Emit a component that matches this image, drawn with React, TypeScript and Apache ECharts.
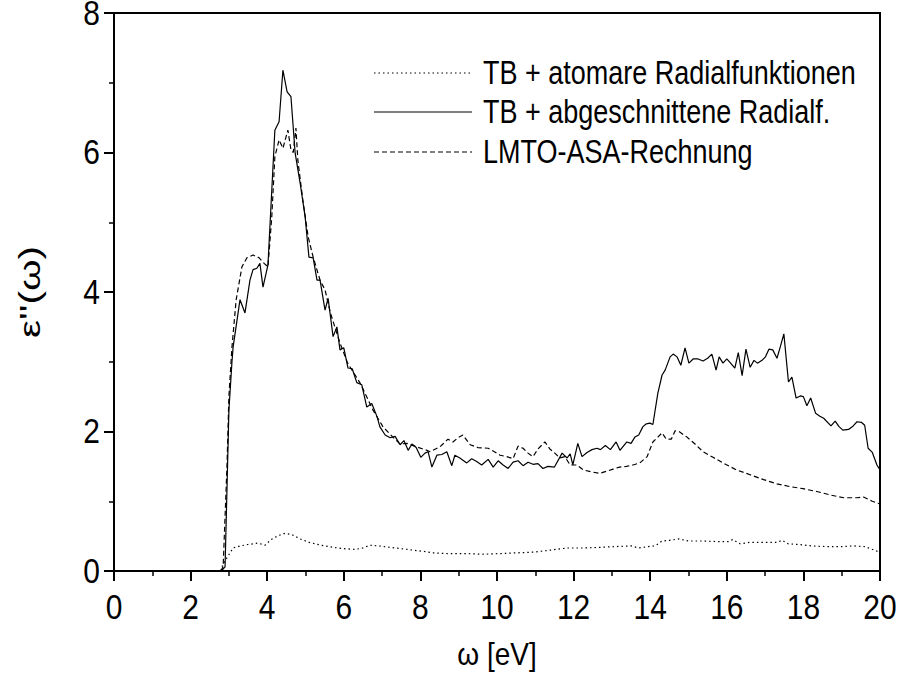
import React, { useEffect, useRef } from "react";
import * as echarts from "echarts";

// ε''(ω) spectra: [photon energy in eV, ε'']
const atomicRadial: [number, number][] = [
  [2.78, 0], [2.82, 0.06], [2.95, 0.19], [3.11, 0.33], [3.3, 0.36], [3.5, 0.38], [3.76, 0.4],
  [3.94, 0.37], [4.1, 0.45], [4.3, 0.51], [4.47, 0.54], [4.65, 0.52], [4.86, 0.46], [5.1, 0.41],
  [5.4, 0.37], [5.72, 0.34], [6.0, 0.32], [6.3, 0.31], [6.5, 0.33], [6.68, 0.37], [6.9, 0.36],
  [7.2, 0.34], [7.5, 0.32], [7.8, 0.3], [8.1, 0.28], [8.33, 0.26], [8.7, 0.25], [9.2, 0.25],
  [9.6, 0.24], [10.1, 0.25], [10.5, 0.26], [10.94, 0.27], [11.4, 0.3], [11.83, 0.33], [12.3, 0.33],
  [12.7, 0.34], [13.1, 0.35], [13.5, 0.36], [13.7, 0.33], [13.95, 0.35], [14.13, 0.36], [14.31, 0.43],
  [14.5, 0.44], [14.75, 0.46], [15.0, 0.43], [15.4, 0.43], [15.8, 0.42], [16.05, 0.42], [16.15, 0.45],
  [16.35, 0.39], [16.6, 0.41], [17.0, 0.41], [17.3, 0.41], [17.45, 0.44], [17.6, 0.39], [17.9, 0.38],
  [18.2, 0.36], [18.6, 0.35], [19.0, 0.35], [19.3, 0.36], [19.6, 0.35], [19.9, 0.29], [20.0, 0.26],
];

const truncatedRadial: [number, number][] = [
  [2.8, 0], [2.9, 0.06], [3.0, 2.3], [3.08, 3.0], [3.11, 3.21], [3.29, 3.89], [3.42, 3.7], [3.55, 4.17],
  [3.63, 4.32], [3.73, 4.34], [3.81, 4.41], [3.89, 4.07], [4.02, 4.39], [4.2, 6.32], [4.31, 6.44],
  [4.41, 7.18], [4.52, 6.87], [4.62, 6.8], [4.73, 5.99], [4.86, 5.56], [4.99, 5.08], [5.09, 4.5],
  [5.2, 4.49], [5.3, 4.17], [5.38, 4.17], [5.51, 3.74], [5.59, 3.91], [5.72, 3.36], [5.82, 3.5],
  [5.9, 3.17], [6.0, 3.2], [6.11, 2.91], [6.22, 2.9], [6.34, 2.7], [6.47, 2.67], [6.6, 2.35],
  [6.73, 2.4], [6.87, 2.21], [6.94, 2.07], [7.08, 1.95], [7.21, 1.91], [7.34, 1.93], [7.47, 1.81],
  [7.57, 1.87], [7.68, 1.73], [7.78, 1.82], [7.89, 1.77], [8.01, 1.63], [8.12, 1.69], [8.2, 1.71],
  [8.3, 1.49], [8.43, 1.66], [8.56, 1.67], [8.69, 1.71], [8.82, 1.51], [8.9, 1.66], [9.03, 1.62],
  [9.21, 1.55], [9.34, 1.61], [9.47, 1.57], [9.6, 1.52], [9.77, 1.6], [9.9, 1.49], [10.03, 1.58],
  [10.16, 1.52], [10.29, 1.47], [10.42, 1.56], [10.55, 1.58], [10.68, 1.51], [10.81, 1.56],
  [10.94, 1.53], [11.07, 1.54], [11.2, 1.47], [11.33, 1.5], [11.5, 1.49], [11.7, 1.69], [11.83, 1.62],
  [11.91, 1.68], [11.98, 1.52], [12.11, 1.83], [12.22, 1.64], [12.35, 1.7], [12.48, 1.74],
  [12.61, 1.76], [12.7, 1.74], [12.83, 1.8], [12.96, 1.74], [13.11, 1.85], [13.21, 1.73],
  [13.39, 1.85], [13.5, 1.83], [13.6, 1.92], [13.7, 1.95], [13.81, 2.07], [13.9, 2.11], [13.99, 2.12],
  [14.07, 2.1], [14.2, 2.55], [14.31, 2.81], [14.39, 2.88], [14.52, 3.07], [14.6, 3.11], [14.7, 3.07],
  [14.8, 2.95], [14.91, 3.2], [15.01, 2.98], [15.12, 3.04], [15.25, 3.04], [15.38, 3.01], [15.5, 3.05],
  [15.61, 3.11], [15.72, 2.88], [15.8, 3.07], [15.9, 2.98], [16.0, 3.04], [16.1, 2.98], [16.21, 2.91],
  [16.3, 3.13], [16.4, 2.8], [16.5, 3.18], [16.61, 2.92], [16.71, 3.02], [16.8, 2.98], [16.92, 3.02],
  [17.01, 3.07], [17.1, 3.18], [17.2, 3.17], [17.31, 3.05], [17.4, 3.22], [17.49, 3.4], [17.61, 2.71],
  [17.7, 2.78], [17.81, 2.48], [17.92, 2.51], [18.0, 2.5], [18.09, 2.37], [18.19, 2.48], [18.32, 2.26],
  [18.43, 2.22], [18.53, 2.19], [18.72, 2.08], [18.83, 2.15], [18.93, 2.07], [19.03, 2.02],
  [19.18, 2.03], [19.3, 2.08], [19.4, 2.14], [19.52, 2.13], [19.6, 2.09], [19.69, 1.76], [19.8, 1.7],
  [19.92, 1.52], [20.0, 1.45],
];

const lmtoAsa: [number, number][] = [
  [2.78, 0], [2.85, 0.06], [2.95, 1.5], [3.0, 2.5], [3.08, 3.21], [3.19, 3.89], [3.34, 4.36],
  [3.47, 4.49], [3.63, 4.53], [3.79, 4.49], [3.92, 4.41], [4.02, 4.36], [4.12, 5.08], [4.2, 5.94],
  [4.31, 6.18], [4.41, 6.06], [4.47, 6.18], [4.54, 6.32], [4.62, 6.04], [4.68, 6.0], [4.75, 6.35],
  [4.8, 5.89], [4.93, 5.32], [5.07, 4.79], [5.2, 4.5], [5.38, 4.17], [5.51, 4.03], [5.65, 3.7],
  [5.9, 3.27], [6.1, 2.98], [6.42, 2.7], [6.76, 2.31], [7.02, 2.07], [7.28, 1.92], [7.47, 1.82],
  [7.65, 1.83], [7.9, 1.78], [8.17, 1.73], [8.25, 1.71], [8.51, 1.78], [8.72, 1.89], [8.85, 1.85],
  [8.98, 1.91], [9.11, 1.95], [9.3, 1.81], [9.5, 1.77], [9.77, 1.76], [9.9, 1.72], [10.08, 1.66],
  [10.25, 1.64], [10.42, 1.61], [10.55, 1.79], [10.68, 1.76], [10.81, 1.69], [10.94, 1.64],
  [11.07, 1.75], [11.25, 1.85], [11.38, 1.75], [11.51, 1.69], [11.64, 1.62], [11.77, 1.64],
  [11.91, 1.52], [12.08, 1.52], [12.25, 1.45], [12.47, 1.42], [12.69, 1.4], [12.86, 1.43],
  [13.03, 1.46], [13.2, 1.49], [13.38, 1.5], [13.55, 1.52], [13.73, 1.55], [13.92, 1.64],
  [14.07, 1.85], [14.2, 1.92], [14.31, 1.98], [14.42, 1.89], [14.55, 1.89], [14.65, 2.01],
  [14.75, 2.0], [14.96, 1.92], [15.17, 1.82], [15.38, 1.71], [15.64, 1.63], [15.9, 1.55],
  [16.25, 1.45], [16.61, 1.38], [16.96, 1.31], [17.31, 1.25], [17.65, 1.21], [17.99, 1.18],
  [18.35, 1.14], [18.7, 1.09], [19.05, 1.05], [19.4, 1.05], [19.57, 1.06], [19.8, 1.0], [20.0, 0.96],
];

const seriesNames = [
  "TB + atomare Radialfunktionen",
  "TB + abgeschnittene Radialf.",
  "LMTO-ASA-Rechnung",
];

const xTicks = [0, 2, 4, 6, 8, 10, 12, 14, 16, 18, 20];
const yTicks = [0, 2, 4, 6, 8];

const xTitle = "ω [eV]";
const yTitle = "ε''(ω)";

const FONT = "'Liberation Sans', Arial, Helvetica, sans-serif";
const TICK_FONT = `30px ${FONT}`;
const TEXT_STRETCH = 1.15; // glyphs are drawn a little taller than wide
const dotted = [1.5, 3];
const dashed = [5, 3];

export default function App() {
  const ref = useRef<HTMLDivElement>(null);

  useEffect(() => {
    if (!ref.current) return;
    const chart = echarts.init(ref.current, undefined, { renderer: "svg" });

    const axisCommon = {
      axisLine: { show: true, onZero: false, lineStyle: { color: "#000", width: 2 } },
      axisTick: { show: true, inside: false, length: 10, lineStyle: { color: "#000", width: 2 } },
      minorTick: { show: true, splitNumber: 2, length: 5, lineStyle: { color: "#000", width: 1.5 } },
      splitLine: { show: false },
      minorSplitLine: { show: false },
      axisLabel: { show: false },
    };

    const styles = [
      { type: dotted, width: 1.2 },
      { type: "solid", width: 1.2 },
      { type: dashed, width: 1.2 },
    ];
    const datasets = [atomicRadial, truncatedRadial, lmtoAsa];

    chart.setOption({
      animation: false,
      backgroundColor: "#fff",
      grid: {
        left: 114,
        right: 20,
        top: 13,
        bottom: 103,
        show: true,
        borderColor: "#000",
        borderWidth: 2,
        backgroundColor: "transparent",
      },
      xAxis: { type: "value", min: 0, max: 20, interval: 2, ...axisCommon },
      yAxis: { type: "value", min: 0, max: 8, interval: 2, ...axisCommon },
      series: datasets.map((d, i) => ({
        name: seriesNames[i],
        type: "line",
        data: d,
        symbol: "none",
        showSymbol: false,
        lineStyle: { color: "#000", ...styles[i] },
        z: 3 - i,
      })),
    });

    // tick labels placed through the axes' own scales
    const x0 = chart.convertToPixel({ gridIndex: 0 }, [0, 0]) as number[];
    const xLabels = xTicks.map((v) => {
      const p = chart.convertToPixel({ gridIndex: 0 }, [v, 0]) as number[];
      return {
        type: "text",
        x: p[0],
        y: p[1] + 36,
        scaleY: TEXT_STRETCH,
        style: { text: String(v), fill: "#000", font: TICK_FONT, align: "center", verticalAlign: "middle" },
      };
    });
    const yLabels = yTicks.map((v) => {
      const p = chart.convertToPixel({ gridIndex: 0 }, [0, v]) as number[];
      return {
        type: "text",
        x: x0[0] - 14,
        y: p[1],
        scaleY: TEXT_STRETCH,
        style: { text: String(v), fill: "#000", font: TICK_FONT, align: "right", verticalAlign: "middle" },
      };
    });

    const legendX0 = 374;
    const legendX1 = 472;
    const legendRows = [73, 112, 152];

    chart.setOption({
      graphic: [
        ...xLabels,
        ...yLabels,
        ...legendRows.map((y, i) => ({
          type: "line",
          shape: { x1: legendX0, y1: y, x2: legendX1, y2: y },
          style: {
            stroke: "#000",
            lineWidth: 1.2,
            lineDash: styles[i].type === "solid" ? null : styles[i].type,
          },
        })),
        ...legendRows.map((y, i) => ({
          type: "text",
          x: 483,
          y,
          scaleY: 1.2,
          style: {
            text: seriesNames[i],
            fill: "#000",
            font: `27px ${FONT}`,
            verticalAlign: "middle",
            align: "left",
          },
        })),
        {
          type: "text",
          x: 497,
          y: 654,
          scaleY: TEXT_STRETCH,
          style: { text: xTitle, fill: "#000", font: `28px ${FONT}`, align: "center", verticalAlign: "middle" },
        },
        {
          type: "text",
          x: 30,
          y: 292,
          rotation: Math.PI / 2,
          scaleX: 1.35,
          style: { text: yTitle, fill: "#000", font: `30px ${FONT}`, align: "center", verticalAlign: "middle" },
        },
      ],
    });

    return () => chart.dispose();
  }, []);

  return <div ref={ref} style={{ width: 900, height: 674, position: "absolute", left: 0, top: 0 }} />;
}
